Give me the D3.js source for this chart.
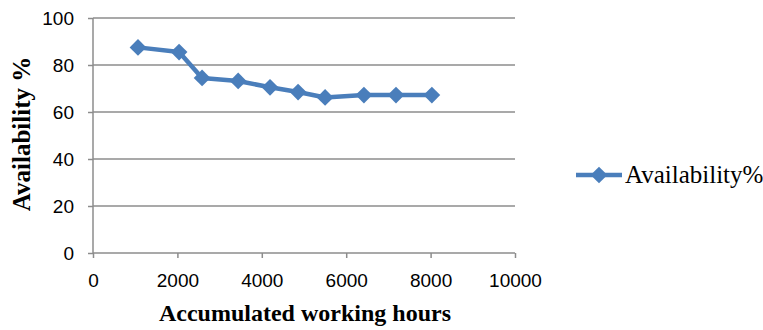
<!DOCTYPE html>
<html><head><meta charset="utf-8">
<script src="https://cdn.jsdelivr.net/npm/d3@7"></script>
<style>body{margin:0;background:#fff}svg{display:block}</style>
</head><body>
<svg id="c" width="763" height="330"></svg>
<script>
const hours = [1066, 2040, 2585, 3440, 4195, 4860, 5500, 6420, 7180, 8030];
const availability = [87.5, 85.5, 74.5, 73.2, 70.5, 68.5, 66.2, 67.2, 67.2, 67.2];
const xTicks = [0, 2000, 4000, 6000, 8000, 10000];
const yTicks = [0, 20, 40, 60, 80, 100];
const seriesName = "Availability%";

const svg = d3.select("#c");
const x = d3.scaleLinear().domain([0, 10000]).range([93, 515]);
const y = d3.scaleLinear().domain([0, 100]).range([253, 18]);
const grid = "#8c8c8c";
const blue = "#4a7ebb";

// gridlines
svg.append("g").selectAll("line").data(yTicks.filter(d => d > 0)).join("line")
  .attr("x1", x(0)).attr("x2", x(10000)).attr("y1", d => y(d)).attr("y2", d => y(d))
  .attr("stroke", grid).attr("stroke-width", 1.5);

// y axis
const ya = svg.append("g").attr("transform", `translate(${x(0)},0)`)
  .call(d3.axisLeft(y).tickValues(yTicks).tickFormat(d3.format("d")).tickSize(5).tickPadding(14));
// x axis
const xa = svg.append("g").attr("transform", `translate(0,${y(0)})`)
  .call(d3.axisBottom(x).tickValues(xTicks).tickFormat(d3.format("d")).tickSize(5).tickPadding(16));
[ya, xa].forEach(a => {
  a.selectAll("path,line").attr("stroke", grid).attr("stroke-width", 1.5);
  a.select(".domain").attr("d", null);
  a.selectAll("text").attr("font-family", "'Liberation Sans', Arial, sans-serif")
    .attr("font-size", 19).attr("fill", "#000");
});
svg.append("line").attr("x1", x(0)).attr("x2", x(0)).attr("y1", y(100)).attr("y2", y(0))
  .attr("stroke", grid).attr("stroke-width", 1.5);
svg.append("line").attr("x1", x(0)).attr("x2", x(10000)).attr("y1", y(0)).attr("y2", y(0))
  .attr("stroke", grid).attr("stroke-width", 1.5);

// line
const pts = hours.map((h, i) => [h, availability[i]]);
svg.append("path").datum(pts)
  .attr("d", d3.line().x(d => x(d[0])).y(d => y(d[1])))
  .attr("fill", "none").attr("stroke", blue).attr("stroke-width", 4.5).attr("stroke-linejoin", "round");
const diamond = d3.symbol().type(d3.symbolSquare).size(140);
svg.append("g").selectAll("path").data(pts).join("path")
  .attr("d", diamond)
  .attr("transform", d => `translate(${x(d[0])},${y(d[1])}) rotate(45)`)
  .attr("fill", blue);

// axis titles
svg.append("text").attr("x", 305).attr("y", 321).attr("text-anchor", "middle")
  .attr("font-family", "'Liberation Serif', 'Times New Roman', serif").attr("font-weight", "bold")
  .attr("font-size", 24).text("Accumulated working hours");
svg.append("text").attr("transform", "translate(30,134) rotate(-90)").attr("text-anchor", "middle")
  .attr("font-family", "'Liberation Serif', 'Times New Roman', serif").attr("font-weight", "bold")
  .attr("font-size", 25).text("Availability %");

// legend
const lg = svg.append("g").attr("transform", "translate(576,175)");
lg.append("line").attr("x1", 0).attr("x2", 46).attr("stroke", blue).attr("stroke-width", 4.5);
lg.append("path").attr("d", diamond).attr("transform", "translate(23,0) rotate(45)").attr("fill", blue);
lg.append("text").attr("x", 49).attr("y", 8).attr("font-family", "'Liberation Serif', 'Times New Roman', serif")
  .attr("font-size", 25).text(seriesName);
</script>
</body></html>
